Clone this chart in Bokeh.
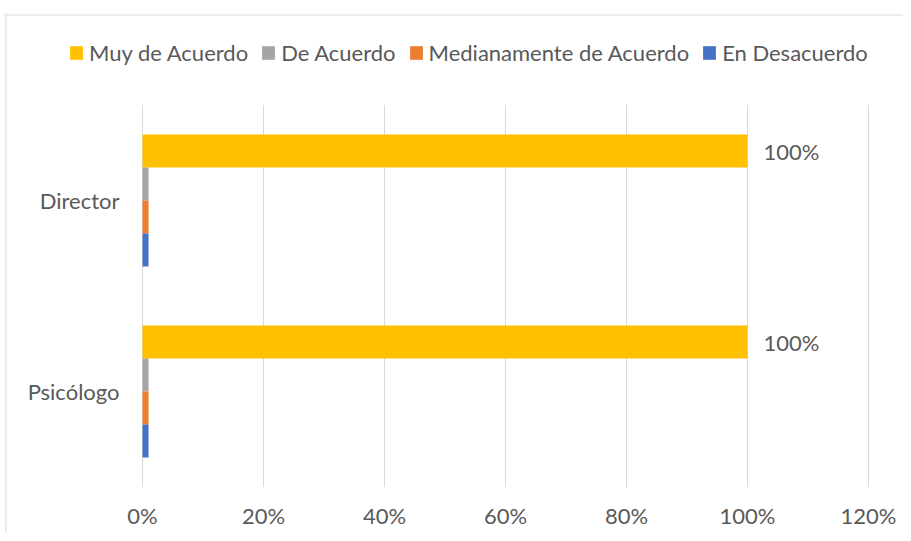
from bokeh.plotting import figure
from bokeh.models import (ColumnDataSource, Legend, LegendItem, NumeralTickFormatter,
                          FixedTicker, Range1d, Span)
from bokeh.transform import dodge
from bokeh.core.properties import value
from bokeh.embed import file_html
from bokeh.resources import INLINE

categories = ["Director", "Psicólogo"]
series = ["Muy de Acuerdo", "De Acuerdo", "Medianamente de Acuerdo", "En Desacuerdo"]
muy_de_acuerdo = [1.00, 1.00]
de_acuerdo = [0.01, 0.01]
medianamente = [0.01, 0.01]
en_desacuerdo = [0.01, 0.01]
colors = ["#FFC000", "#A5A5A5", "#ED7D31", "#4472C4"]
x_ticks = [0, 0.2, 0.4, 0.6, 0.8, 1.0, 1.2]

FONT = "Lato"
TXT = "#595959"
FS = "22px"
BORDER = "#D9D9D9"

# layout (pixels) -------------------------------------------------------
W, H = 903, 533
FRAME_L, FRAME_T = 4, 13                 # frame covers the whole chart area
PLOT_L, PLOT_R = 142, 868                # 0% .. 120%
PLOT_T, PLOT_B = 104.5, 486.5            # top / bottom of category bands
CHART_L, CHART_T = 5.5, 14.5             # chart border lines
X_MAX = 1.2
n = len(categories)
px_per_x = (PLOT_R - PLOT_L) / X_MAX
px_per_y = (PLOT_B - PLOT_T) / n

x_start = -(PLOT_L - FRAME_L) / px_per_x
x_end = X_MAX + (W - PLOT_R) / px_per_x
y_start = -0.5 - (H - PLOT_B) / px_per_y
y_end = n - 0.5 + (PLOT_T - FRAME_T) / px_per_y

ypos = list(range(n))[::-1]  # first category on top
src = ColumnDataSource(dict(
    y=ypos,
    muy=muy_de_acuerdo,
    de=de_acuerdo,
    med=medianamente,
    des=en_desacuerdo,
    lbl=[f"{v*100:.0f}%" for v in muy_de_acuerdo],
))

p = figure(width=W, height=H, output_backend="svg", toolbar_location=None,
           x_range=Range1d(x_start, x_end), y_range=Range1d(y_start, y_end),
           min_border_left=FRAME_L, min_border_right=0, min_border_top=FRAME_T,
           min_border_bottom=0)

# chart border (left and top edges visible in the reference)
p.add_layout(Span(location=(CHART_L - PLOT_L) / px_per_x, dimension="height",
                  line_color=BORDER, line_width=1))
p.add_layout(Span(location=-0.5 + (PLOT_B - CHART_T) / px_per_y, dimension="width",
                  line_color=BORDER, line_width=1))

# grid lines only across the plot area
p.segment(x0=x_ticks, x1=x_ticks, y0=[-0.5] * len(x_ticks), y1=[n - 0.5] * len(x_ticks),
          line_color=BORDER, line_width=1)

offsets = [0.259, 0.086, -0.086, -0.259]
cols = ["muy", "de", "med", "des"]
renderers = []
for c, off, col in zip(cols, offsets, colors):
    r = p.hbar(y=dodge("y", off), right=c, left=0, height=0.173,
               source=src, fill_color=col, line_color=None)
    renderers.append(r)

p.text(x="muy", y=dodge("y", offsets[0]), text="lbl", source=src,
       x_offset=16, text_align="left", text_baseline="middle",
       text_font=value(FONT), text_font_size=FS, text_color=TXT)

legend = Legend(items=[LegendItem(label=s, renderers=[r]) for s, r in zip(series, renderers)],
                orientation="horizontal", location=(64, H - 53 - 13))
legend.label_text_font = FONT
legend.label_text_font_size = FS
legend.label_text_color = TXT
legend.glyph_width = 16
legend.glyph_height = 17
legend.label_standoff = 5
legend.spacing = 12
legend.padding = 0
legend.margin = 0
legend.background_fill_alpha = 0
legend.border_line_color = None
p.add_layout(legend, "center")

p.xaxis.ticker = FixedTicker(ticks=x_ticks)
p.xaxis.formatter = NumeralTickFormatter(format="0%")
p.yaxis.ticker = FixedTicker(ticks=ypos)
p.yaxis.major_label_overrides = {y: c for y, c in zip(ypos, categories)}
for ax in (p.xaxis, p.yaxis):
    ax.axis_line_color = None
    ax.major_tick_line_color = None
    ax.minor_tick_line_color = None
    ax.major_label_text_font = FONT
    ax.major_label_text_font_size = FS
    ax.major_label_text_color = TXT
p.xaxis.major_label_standoff = -38
p.yaxis.major_label_standoff = FRAME_L - 125

p.grid.visible = False
p.outline_line_color = None
p.background_fill_color = "white"
p.border_fill_color = "white"

open("out.html", "w").write(file_html(p, INLINE))
